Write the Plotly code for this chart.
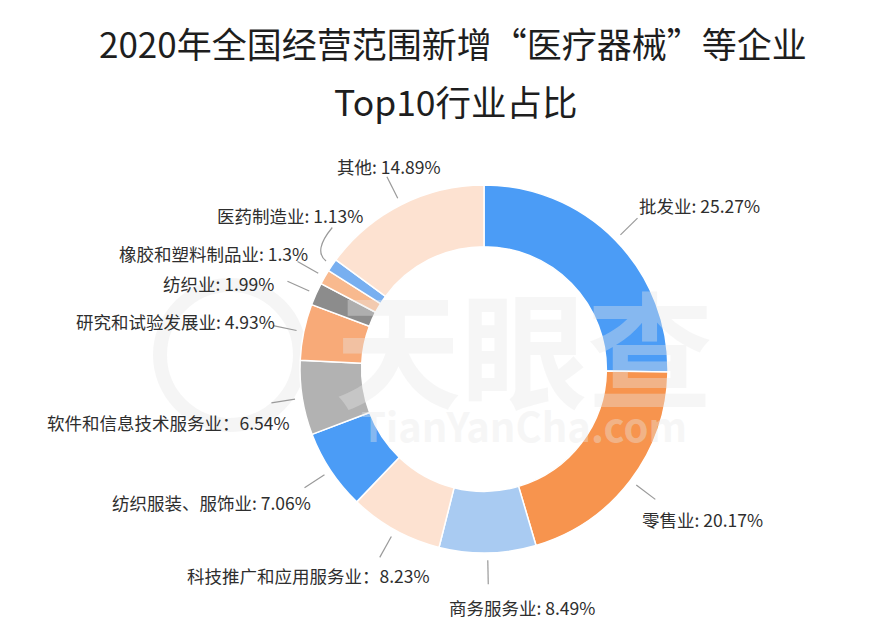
import math
import plotly.graph_objects as go

# ---------------- data ----------------
categories = ["批发业", "零售业", "商务服务业", "科技推广和应用服务业", "纺织服装、服饰业",
              "软件和信息技术服务业", "研究和试验发展业", "纺织业", "橡胶和塑料制品业",
              "医药制造业", "其他"]
shares = [25.27, 20.17, 8.49, 8.23, 7.06, 6.54, 4.93, 1.99, 1.3, 1.13, 14.89]
separators = [": ", ": ", ": ", "：", ": ", "：", ": ", ": ", ": ", ": ", ": "]
title_line1 = "2020年全国经营范围新增“医疗器械”等企业"
title_line2 = "Top10行业占比"

# ---------------- style ----------------
colors = ["#4b9cf6", "#f7944e", "#a9cbf2", "#fde2d1", "#4b9cf6", "#b2b2b2",
          "#f8aa78", "#8c8c8c", "#f8b98e", "#78aff0", "#fde2d1"]
FONT = "Noto Sans CJK SC"
W, H = 878, 642
CX, CY, R = 484, 369, 184
HOLE = 0.665

# label layout tweaks: (line-end shift x, y, text shift x, y) in px
label_layout = [
    (0, 0, -1, -1), (0, 0, -15, 3), (0, 0, 34, 6), (0, 0, 52, 1),
    (0, 0, 8, -2), (0, 0, 21, 3), (0, 0, 4, 8), (0, 0, -11, 14),
    (0, 0, 12, 4), (26, -20, 33, 0), (0, 0, 56, 2),
]


def px(x):
    return x / W


def py(y):
    return 1 - y / H


fig = go.Figure(go.Pie(
    labels=categories, values=shares, sort=False, direction="clockwise",
    rotation=0, hole=HOLE, textinfo="none", hoverinfo="label+percent",
    marker=dict(colors=colors, line=dict(color="white", width=1.5)),
    domain=dict(x=[px(CX - R), px(CX + R)], y=[py(CY + R), py(CY - R)]),
    showlegend=False,
))

total = sum(shares)
shapes = []
annotations = []

# watermark (logo ring + text as a single block)
shapes.append(dict(type="circle", xref="paper", yref="paper", layer="below",
                   x0=px(160), x1=px(300), y0=py(285), y1=py(425),
                   line=dict(color="rgba(242,242,242,0.8)", width=14)))
annotations.append(dict(
    text=("<span style='font-size:126px'><b>天眼查</b></span><br>"
          "<span style='font-size:40px'><b>TianYanCha.com</b></span>"),
    xref="paper", yref="paper", x=px(524), y=py(354),
    xanchor="center", yanchor="middle", align="center", showarrow=False,
    font=dict(family=FONT, size=33, color="rgba(232,232,232,0.38)")))

cum = 0.0
for i, (cat, v) in enumerate(zip(categories, shares)):
    mid = (cum + v / 2) / total * 2 * math.pi
    cum += v
    s, c = math.sin(mid), math.cos(mid)
    sx, sy = CX + 1.04 * R * s, CY - 1.04 * R * c
    ex0, ey0 = CX + 1.17 * R * s, CY - 1.17 * R * c
    lx, ly, tdx, tdy = label_layout[i]
    ex, ey = ex0 + lx, ey0 + ly
    if lx or ly:
        mx, my = CX + 1.1 * R * s, CY - 1.1 * R * c
        path = (f"M {px(sx)} {py(sy)} Q {px(mx - 4)} {py(my - 4)} "
                f"{px(ex)} {py(ey)}")
        shapes.append(dict(type="path", path=path, xref="paper", yref="paper",
                           line=dict(color="#9a9a9a", width=1.2)))
    else:
        shapes.append(dict(type="line", xref="paper", yref="paper",
                           x0=px(sx), y0=py(sy), x1=px(ex), y1=py(ey),
                           line=dict(color="#9a9a9a", width=1.2)))
    if s > 0.25:
        xanchor = "left"
    elif s < -0.25:
        xanchor = "right"
    else:
        xanchor = "center"
    ty = ey - 12 if c >= 0 else ey + 17
    annotations.append(dict(
        text=f"{cat}{separators[i]}{v:g}%", xref="paper", yref="paper",
        x=px(ex + tdx), y=py(ty + tdy), xanchor=xanchor, yanchor="middle",
        showarrow=False, font=dict(family=FONT, size=17.5, color="#2e2e2e"),
    ))

# titles
annotations.append(dict(text=title_line1, xref="paper", yref="paper",
                        x=px(453), y=py(42), xanchor="center", yanchor="middle",
                        showarrow=False, font=dict(family=FONT, size=35, color="#1e1e1e")))
annotations.append(dict(text=title_line2, xref="paper", yref="paper",
                        x=px(456), y=py(100), xanchor="center", yanchor="middle",
                        showarrow=False, font=dict(family=FONT, size=35.5, color="#1e1e1e")))

fig.update_layout(
    width=W, height=H, margin=dict(l=0, r=0, t=0, b=0),
    paper_bgcolor="white", plot_bgcolor="white",
    shapes=shapes, annotations=annotations,
)

fig.write_html("out.html", config={"displayModeBar": False},
               post_script="document.body.style.margin='0';")
